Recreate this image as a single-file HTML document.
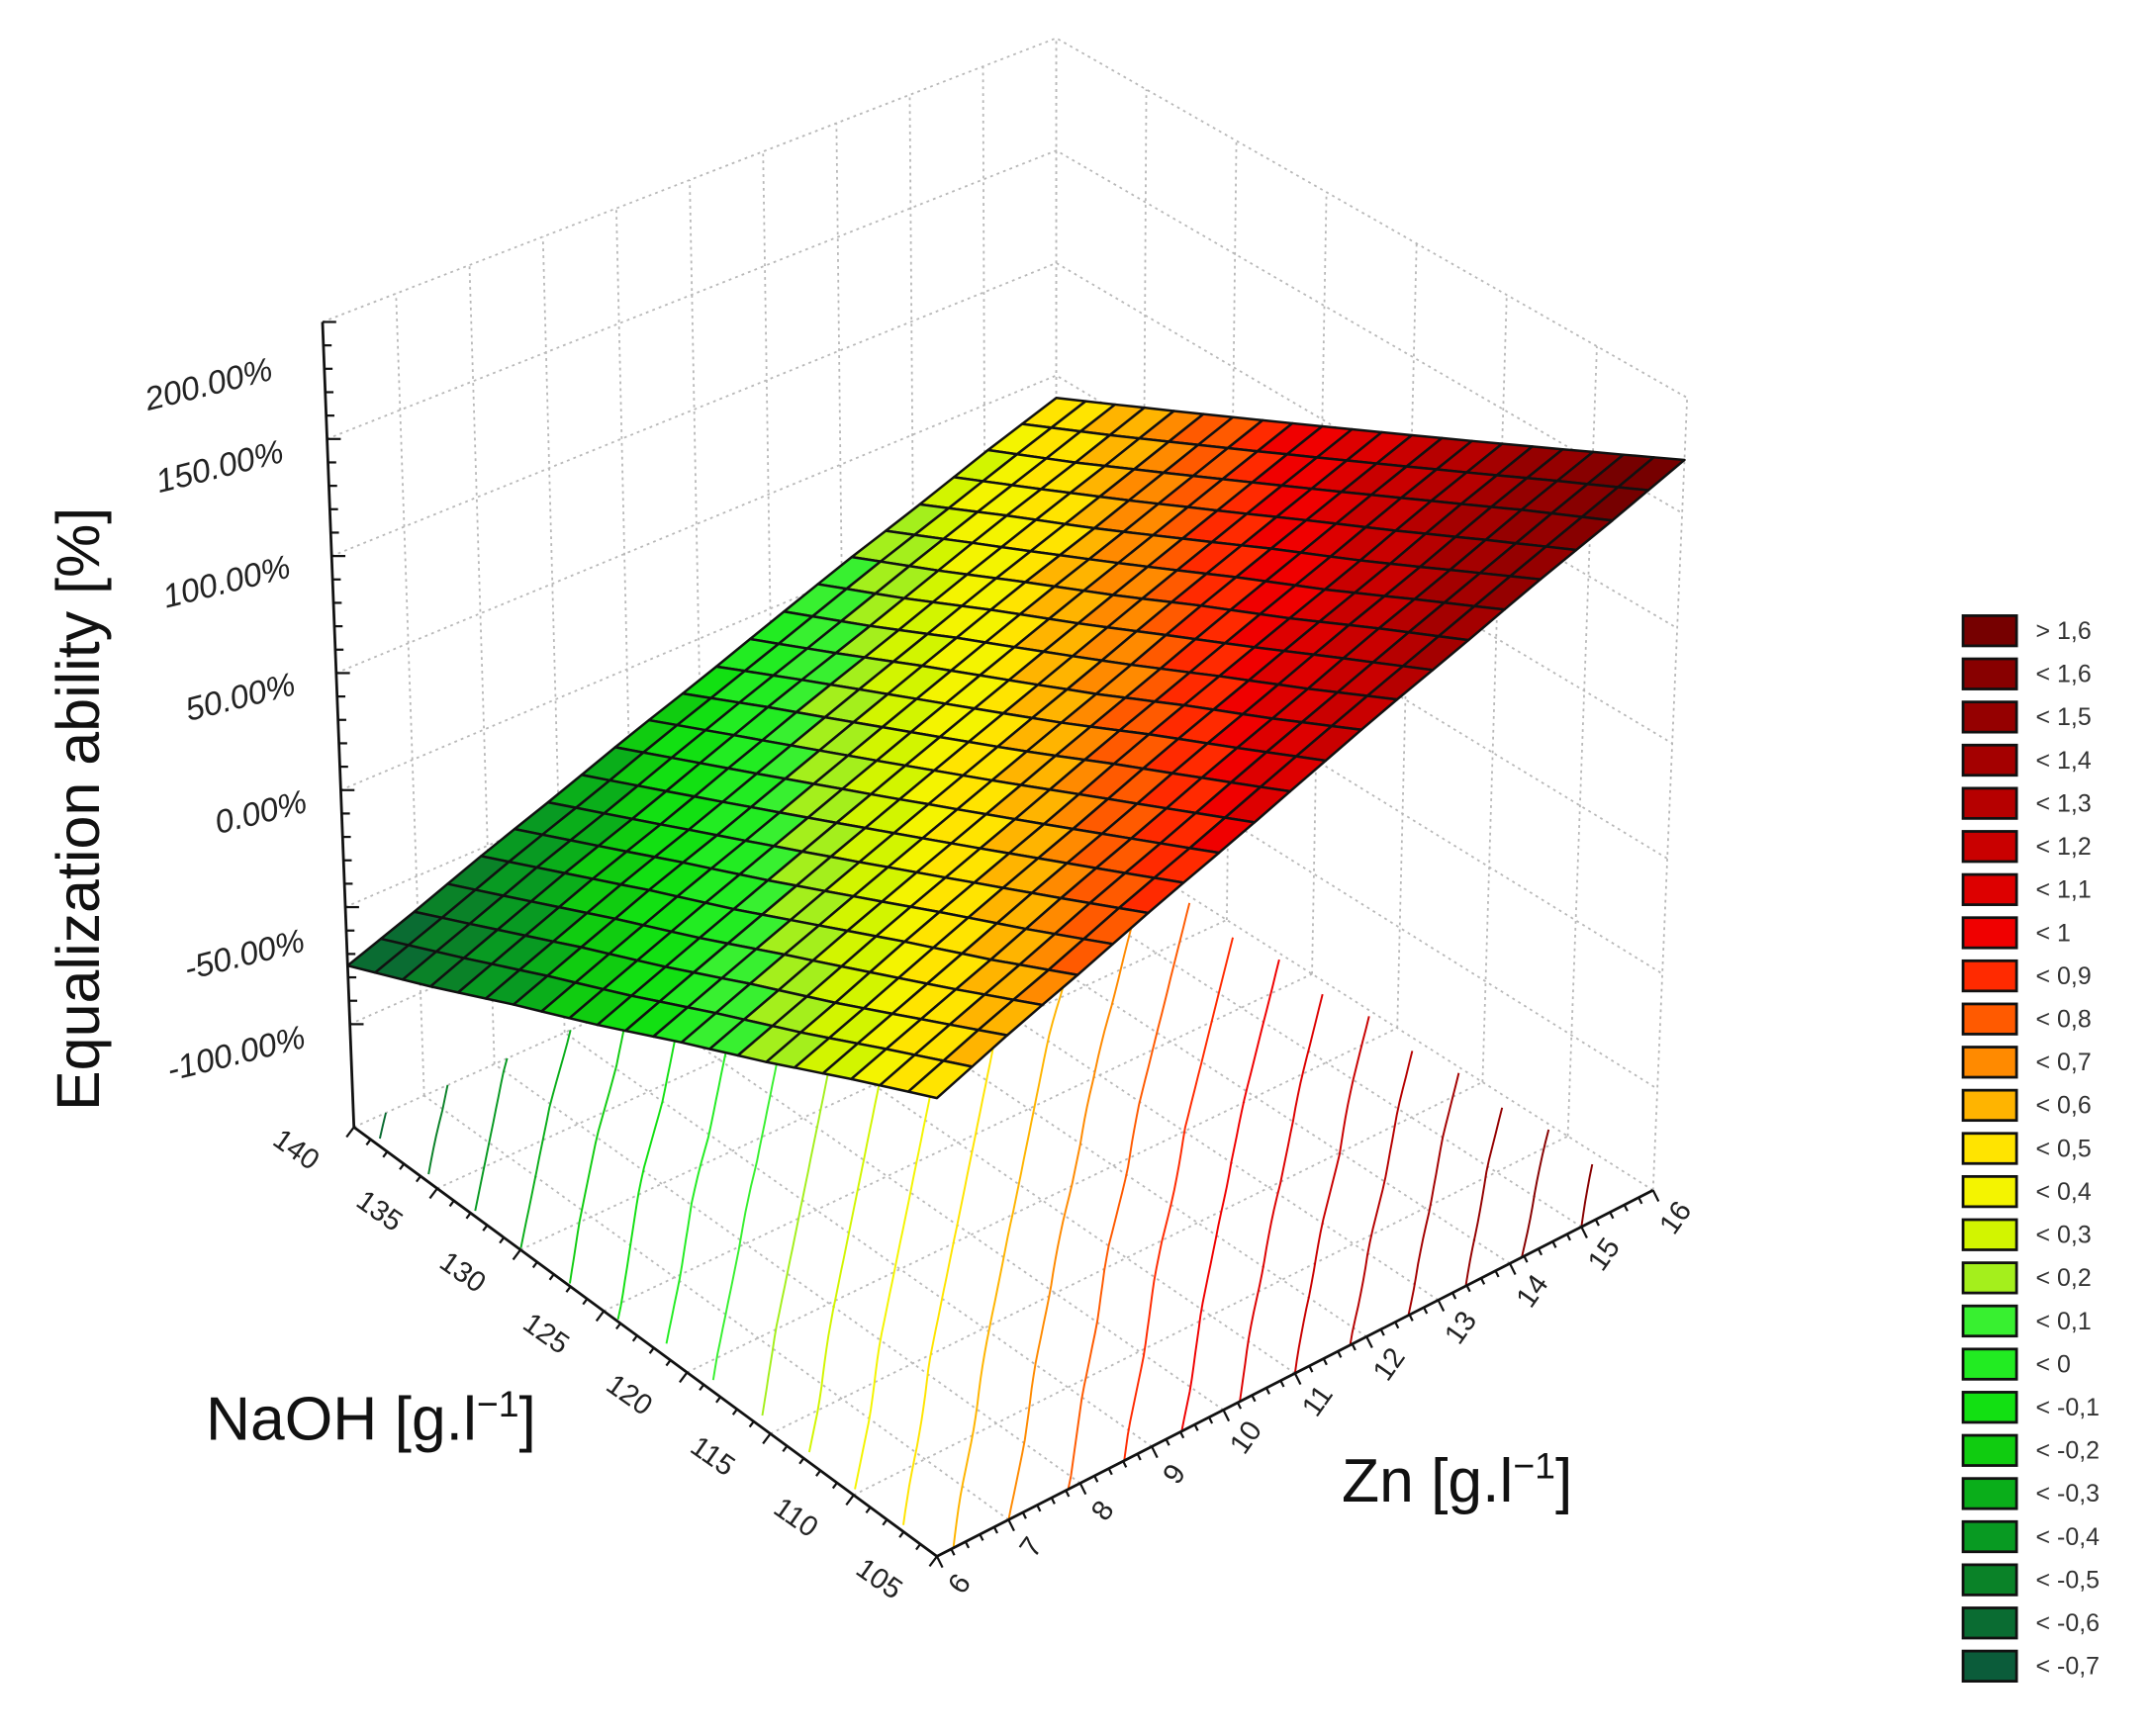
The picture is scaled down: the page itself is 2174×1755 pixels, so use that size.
<!DOCTYPE html>
<html><head><meta charset="utf-8"><style>
html,body{margin:0;padding:0;background:#fff;}
svg{display:block;font-family:"Liberation Sans",Arial,sans-serif;}
</style></head><body>
<svg id="chart" width="2174" height="1755" viewBox="0 0 1568 1266" preserveAspectRatio="none" xmlns="http://www.w3.org/2000/svg">
<g id="walls"></g>
<g id="floor"></g>
<g id="contours"></g>
<g id="axes"></g>
<g id="surface"></g>
<g id="labels"></g>
<text x="0" y="0" transform="translate(72,590) rotate(-90)" text-anchor="middle" font-size="44" fill="#111">Equalization ability [%]</text>
<text x="150" y="1050" font-size="45" fill="#111">NaOH [g.l<tspan font-size="27" dy="-17">−1</tspan><tspan dy="17">]</tspan></text>
<text x="978" y="1095" font-size="45" fill="#111">Zn [g.l<tspan font-size="27" dy="-17">−1</tspan><tspan dy="17">]</tspan></text>
<g id="legend"></g>
</svg>
<script>
// ---- data ----
const znTicks = [6,7,8,9,10,11,12,13,14,15,16];
const naohTicks = [105,110,115,120,125,130,135,140];
const zTicks = [-1.0,-0.5,0,0.5,1.0,1.5,2.0];
const zTickLabels = ["-100.00%","-50.00%","0.00%","50.00%","100.00%","150.00%","200.00%"];
// response (fraction) rows = NaOH (105..140), columns = Zn (6..16)
const zRow105 = [0.47,0.60,0.72,0.85,0.97,1.10,1.23,1.35,1.48,1.60,1.73];
const zRow110 = [0.30,0.42,0.54,0.67,0.79,0.92,1.04,1.17,1.29,1.42,1.54];
const zRow115 = [0.12,0.24,0.37,0.49,0.61,0.74,0.86,0.98,1.10,1.23,1.35];
const zRow120 = [-0.05,0.07,0.19,0.31,0.43,0.55,0.67,0.80,0.92,1.04,1.16];
const zRow125 = [-0.23,-0.11,0.01,0.13,0.25,0.37,0.49,0.61,0.73,0.85,0.97];
const zRow130 = [-0.40,-0.28,-0.16,-0.05,0.07,0.19,0.31,0.43,0.54,0.66,0.78];
const zRow135 = [-0.58,-0.46,-0.34,-0.23,-0.11,0.01,0.12,0.24,0.36,0.47,0.59];
const zRow140 = [-0.75,-0.64,-0.52,-0.41,-0.29,-0.18,-0.06,0.06,0.17,0.29,0.40];
const legendLabels = ["> 1,6","< 1,6","< 1,5","< 1,4","< 1,3","< 1,2","< 1,1","< 1","< 0,9","< 0,8","< 0,7","< 0,6","< 0,5","< 0,4","< 0,3","< 0,2","< 0,1","< 0","< -0,1","< -0,2","< -0,3","< -0,4","< -0,5","< -0,6","< -0,7"];
const legendLevels = [1.6,1.6,1.5,1.4,1.3,1.2,1.1,1.0,0.9,0.8,0.7,0.6,0.5,0.4,0.3,0.2,0.1,0,-0.1,-0.2,-0.3,-0.4,-0.5,-0.6,-0.7];
const legendColors = ["#760000","#880000","#950000","#a40000","#b60000","#c90000","#dd0000","#f00000","#ff2a00","#ff5a00","#ff8a00","#ffb400","#ffe400","#f4f400","#d2f500","#a4ef1c","#38f030","#22ec22","#12e012","#10cc10","#0aae1a","#089a22","#0a8228","#0a6c32","#0b5c3a"];
const zRows = [zRow105,zRow110,zRow115,zRow120,zRow125,zRow130,zRow135,zRow140];

// ---- projection ----
const NS="http://www.w3.org/2000/svg";
const ZN0=znTicks[0], ZN1=znTicks[znTicks.length-1], NA0=naohTicks[0], NA1=naohTicks[naohTicks.length-1];
const ZFLOOR=-1.44, ZTOP=2.0;
const CF=[683,1135], CR=[1205,868], CL=[258,822], CB=[770,592];
const KF=175, KR=168, KL=170.7, KB=164;
const LF=0, LR=0.043, LL=-0.039, LB=0;
function bl(a,b,c,d,u,v){return (1-u)*(1-v)*a+u*(1-v)*b+(1-u)*v*c+u*v*d;}
function proj(u,v,z){
  const fx=bl(CF[0],CR[0],CL[0],CB[0],u,v), fy=bl(CF[1],CR[1],CL[1],CB[1],u,v);
  const k=bl(KF,KR,KL,KB,u,v), ln=bl(LF,LR,LL,LB,u,v);
  const h=k*(z-ZFLOOR);
  return [fx+ln*h, fy-h];
}
function uOf(zn){return (zn-ZN0)/(ZN1-ZN0);}
function vOf(n){return (n-NA0)/(NA1-NA0);}
function zAt(u,v){
  const fi=u*(znTicks.length-1), fj=v*(naohTicks.length-1);
  const i=Math.min(Math.floor(fi),znTicks.length-2), j=Math.min(Math.floor(fj),naohTicks.length-2);
  const a=fi-i, b=fj-j;
  return (1-a)*(1-b)*zRows[j][i]+a*(1-b)*zRows[j][i+1]+(1-a)*b*zRows[j+1][i]+a*b*zRows[j+1][i+1];
}
function colorFor(z){
  for(let i=legendLevels.length-1;i>=1;i--){ if(z<legendLevels[i]) return legendColors[i]; }
  return z>legendLevels[0]?legendColors[0]:legendColors[1];
}
function mk(tag,attrs,parent){const e=document.createElementNS(NS,tag);for(const k in attrs)e.setAttribute(k,attrs[k]);parent.appendChild(e);return e;}
function pts(a){return a.map(p=>p[0].toFixed(1)+","+p[1].toFixed(1)).join(" ");}
const dot={stroke:"#b8b8b8","stroke-width":1.3,"stroke-dasharray":"2 3",fill:"none"};

// ---- walls ----
const walls=document.getElementById('walls');
znTicks.forEach(zn=>{const u=uOf(zn);const a=proj(u,1,ZFLOOR),b=proj(u,1,ZTOP);
  const l=mk('line',Object.assign({x1:a[0],y1:a[1],x2:b[0],y2:b[1]},dot),walls);
  
  });
naohTicks.forEach(n=>{const v=vOf(n);const a=proj(1,v,ZFLOOR),b=proj(1,v,ZTOP);
  const l=mk('line',Object.assign({x1:a[0],y1:a[1],x2:b[0],y2:b[1]},dot),walls);
  
  });
zTicks.forEach(z=>{const p=[proj(0,1,z),proj(1,1,z),proj(1,0,z)];
  const l=mk('polyline',Object.assign({points:pts(p)},dot),walls);
  
  });
// ---- floor grid ----
const floor=document.getElementById('floor');
znTicks.forEach(zn=>{const u=uOf(zn);const a=proj(u,0,ZFLOOR),b=proj(u,1,ZFLOOR);
  const l=mk('line',Object.assign({x1:a[0],y1:a[1],x2:b[0],y2:b[1]},dot),floor);
  
  });
naohTicks.forEach(n=>{const v=vOf(n);const a=proj(0,v,ZFLOOR),b=proj(1,v,ZFLOOR);
  const l=mk('line',Object.assign({x1:a[0],y1:a[1],x2:b[0],y2:b[1]},dot),floor);
  
  });
// ---- contours ----
const cg=document.getElementById('contours');
for(let li=1;li<legendLevels.length;li++){
  const L=legendLevels[li]; const seg=[];
  for(let s=0;s<=60;s++){const v=s/60;
    let prev=zAt(0,v);
    for(let t=1;t<=100;t++){const u=t/100;const cur=zAt(u,v);
      if((prev-L)*(cur-L)<=0 && prev!==cur){const uu=(t-1)/100+(L-prev)/(cur-prev)/100;seg.push(proj(uu,v,ZFLOOR));break;}
      prev=cur;}
  }
  if(seg.length>1){const c=mk('polyline',{points:pts(seg),fill:"none",stroke:legendColors[li-1>=1?li-1:1],"stroke-width":1.4},cg);
    
    }
}
// ---- axes ----
const ax=document.getElementById('axes');
const axStyle={stroke:"#111","stroke-width":2,fill:"none"};
let a1=proj(0,0,ZFLOOR),a2=proj(0,1,ZFLOOR),a3=proj(1,0,ZFLOOR),a4=proj(0,1,ZTOP);
let e=mk('polyline',Object.assign({points:pts([a2,a1,a3])},axStyle),ax);


e=mk('line',Object.assign({x1:a2[0],y1:a2[1],x2:a4[0],y2:a4[1]},axStyle),ax);


for(let n=NA0;n<=NA1;n+=1){const v=vOf(n);const p=proj(0,v,ZFLOOR);const major=(n%5===0);const len=major?9:5;
  const t=mk('line',{x1:p[0],y1:p[1],x2:p[0]-len*0.6,y2:p[1]+len*0.8,stroke:"#111","stroke-width":1.6},ax);
  
  }
for(let k=0;k<=50;k++){const zn=ZN0+k*0.2;const u=uOf(zn);const p=proj(u,0,ZFLOOR);const major=(k%5===0);const len=major?9:5;
  const t=mk('line',{x1:p[0],y1:p[1],x2:p[0]+len*0.45,y2:p[1]+len*0.9,stroke:"#111","stroke-width":1.6},ax);
  
  }
for(let k=0;k<=30;k++){const z=-1.0+k*0.1;const p=proj(0,1,z);const major=(k%5===0);const len=major?10:6;
  const t=mk('line',{x1:p[0],y1:p[1],x2:p[0]+len,y2:p[1],stroke:"#111","stroke-width":1.6},ax);
  
  }
// ---- surface ----
const sg=document.getElementById('surface');
const NU=21,NV=21; const cells=[];
for(let i=0;i<NU;i++)for(let j=0;j<NV;j++)cells.push([i,j]);
cells.sort((a,b)=>(b[0]+b[1])-(a[0]+a[1]));
cells.forEach(([i,j])=>{
  const u0=i/NU,u1=(i+1)/NU,v0=j/NV,v1=(j+1)/NV;
  const q=[proj(u0,v0,zAt(u0,v0)),proj(u1,v0,zAt(u1,v0)),proj(u1,v1,zAt(u1,v1)),proj(u0,v1,zAt(u0,v1))];
  const c=mk('polygon',{points:pts(q),fill:colorFor(zAt((u0+u1)/2,(v0+v1)/2)),stroke:"#111","stroke-width":1.8,"stroke-linejoin":"round"},sg);
  
  
});
// ---- labels ----
const lg=document.getElementById('labels');
const zLabelPos=[[174,776],[180,704],[192,600],[177,516],[167,432],[162,348],[154,288]];
zTicks.forEach((z,k)=>{const t=mk('text',{x:0,y:0,transform:`translate(${zLabelPos[k][0]},${zLabelPos[k][1]}) rotate(-14)`,"text-anchor":"middle","font-size":24,"font-style":"italic",fill:"#222"},lg);
  t.textContent=zTickLabels[k];
  
  });
naohTicks.forEach(n=>{const p=proj(0,vOf(n),ZFLOOR);const t=mk('text',{x:0,y:0,transform:`translate(${p[0]-46},${p[1]+22}) rotate(35)`,"text-anchor":"middle","font-size":21,fill:"#222"},lg);
  t.textContent=String(n);
  
  });
znTicks.forEach(zn=>{const p=proj(uOf(zn),0,ZFLOOR);const t=mk('text',{x:0,y:0,transform:`translate(${p[0]+22},${p[1]+24}) rotate(-55)`,"text-anchor":"middle","font-size":21,fill:"#222"},lg);
  t.textContent=String(zn);
  
  });
// ---- legend ----
const leg=document.getElementById('legend');
legendLabels.forEach((lab,k)=>{const cy=460+k*31.46;
  const r=mk('rect',{x:1431,y:cy-11,width:39,height:22,fill:legendColors[k],stroke:"#111","stroke-width":2},leg);
  
  
  const t=mk('text',{x:1484,y:cy+6,"font-size":18,fill:"#333"},leg);
  t.textContent=lab;
  
  });
</script>
</body></html>
